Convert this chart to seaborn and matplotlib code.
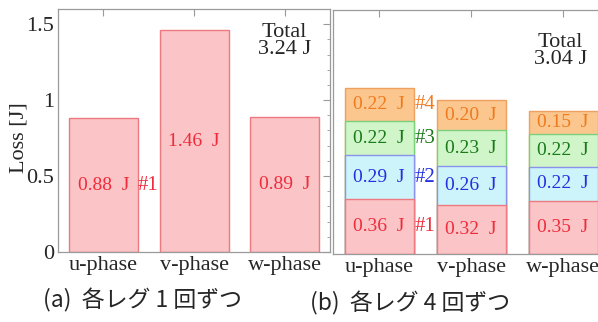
import numpy as np
import pandas as pd
import matplotlib
matplotlib.use("Agg")
import matplotlib.pyplot as plt
from matplotlib.ticker import MultipleLocator
import seaborn as sns

# --- data ---------------------------------------------------------------
phases = ["u-phase", "v-phase", "w-phase"]
loss_once = [0.88, 1.46, 0.89]          # (a) one switching per leg
loss_p1 = [0.36, 0.32, 0.35]            # (b) four switchings per leg
loss_p2 = [0.29, 0.26, 0.22]
loss_p3 = [0.22, 0.23, 0.22]
loss_p4 = [0.22, 0.20, 0.15]
pulse_labels = ["#1", "#2", "#3", "#4"]
total_a = "Total\n3.24 J"
total_b = "Total\n3.04 J"
caption_a = "(a)  各レグ 1 回ずつ"
caption_b = "(b)  各レグ 4 回ずつ"

# --- style --------------------------------------------------------------
sns.set_theme(style="white")
plt.rcParams["font.family"] = ["Liberation Serif", "DejaVu Serif"]
cjk = ["Noto Sans CJK JP", "DejaVu Sans"]

fills = ["#fbc4c6", "#cdf4fb", "#cff5c9", "#fbc78e"]
edges = ["#ec7a80", "#8c92ea", "#7ccf7c", "#eda060"]
texts = ["#ee2c3c", "#2430e0", "#1a7a1a", "#f07a1e"]
frame = "#9a9a9a"

fig = plt.figure(figsize=(5.98, 3.22), dpi=100)
ax_a = fig.add_axes([0.097, 0.2174, 0.455, 0.7547])
ax_b = fig.add_axes([0.557, 0.211, 0.4615, 0.758])


def style_axes(ax, show_ylabels):
    ax.set_ylim(0, 1.6)
    ax.set_xlim(-0.5, 2.5)
    ax.yaxis.set_major_locator(MultipleLocator(0.5))
    ax.yaxis.set_minor_locator(MultipleLocator(0.1))
    ax.tick_params(axis="both", which="both", direction="in", color=frame,
                   top=True, right=True, labelsize=16, pad=3)
    ax.tick_params(axis="y", which="major", length=5, width=0.8)
    ax.tick_params(axis="y", which="minor", length=2.5, width=0.6)
    ax.tick_params(axis="x", which="major", length=5, width=0.8, bottom=False)
    for s in ax.spines.values():
        s.set_color(frame)
        s.set_linewidth(0.9)
    ax.set_xlabel("")
    ax.set_ylabel("")
    if not show_ylabels:
        ax.set_yticklabels([])
    ax.set_facecolor("white")


# --- (a) single bars -----------------------------------------------------
df_a = pd.DataFrame({"phase": phases, "loss": loss_once})
sns.barplot(data=df_a, x="phase", y="loss", ax=ax_a, color=fills[0],
            saturation=1, width=0.76, edgecolor=edges[0], linewidth=1.0)
style_axes(ax_a, True)
ax_a.set_ylabel("Loss [J]", fontsize=16)
ax_a.yaxis.set_label_coords(-0.11, 0.47)
ax_a.set_yticks([0, 0.5, 1, 1.5], ["0", "0.5", "1", "1.5"])
for i, v in enumerate(loss_once):
    ax_a.text(i, v / 2, f"{v:.2f}  J", color=texts[0], fontsize=14,
              ha="center", va="center")
ax_a.text(0.49, loss_once[0] / 2, pulse_labels[0], color=texts[0],
          fontsize=15, ha="center", va="center")
ax_a.text(2.0, 1.39, total_a, fontsize=16, ha="center", va="center",
          linespacing=0.9)

# --- (b) stacked bars ----------------------------------------------------
layers = [loss_p1, loss_p2, loss_p3, loss_p4]
cum = np.cumsum(np.array(layers), axis=0)
# draw cumulative heights from the top layer down so each segment shows
for k in range(len(layers) - 1, -1, -1):
    df_k = pd.DataFrame({"phase": phases, "loss": cum[k]})
    sns.barplot(data=df_k, x="phase", y="loss", ax=ax_b, color=fills[k],
                saturation=1, width=0.75, edgecolor=edges[k], linewidth=1.0)
style_axes(ax_b, False)
for k, layer in enumerate(layers):
    base = cum[k] - np.array(layer)
    for i, v in enumerate(layer):
        ax_b.text(i, base[i] + v / 2, f"{v:.2f}  J", color=texts[k],
                  fontsize=14, ha="center", va="center")
    ax_b.text(0.5, base[0] + layer[0] / 2, pulse_labels[k], color=texts[k],
              fontsize=15, ha="center", va="center")
ax_b.text(1.97, 1.33, total_b, fontsize=16, ha="center", va="center",
          linespacing=0.9)

# --- captions ------------------------------------------------------------
fig.text(0.238, 0.068, caption_a, fontsize=16.5, ha="center", va="center",
         family=cjk)
fig.text(0.686, 0.058, caption_b, fontsize=16.5, ha="center", va="center",
         family=cjk)

fig.savefig("out.png", dpi=100)
